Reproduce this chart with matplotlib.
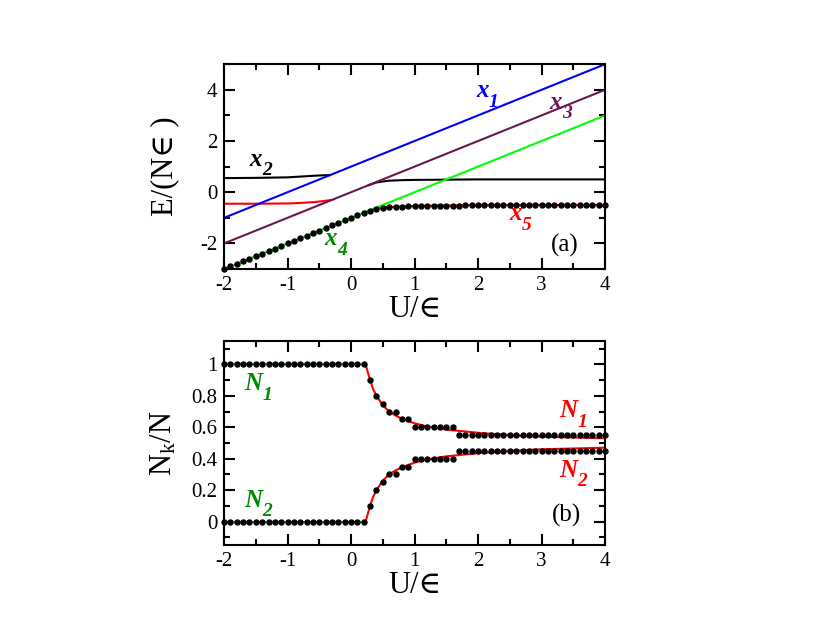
import matplotlib
matplotlib.use('Agg')
import matplotlib.pyplot as plt
from matplotlib.ticker import MultipleLocator
import numpy as np

plt.rcParams['font.family'] = ['Liberation Serif', 'DejaVu Serif']
plt.rcParams['mathtext.fontset'] = 'custom'
plt.rcParams['mathtext.rm'] = 'Liberation Serif'
plt.rcParams['mathtext.it'] = 'Liberation Serif:italic'
plt.rcParams['axes.unicode_minus'] = False

# ---- panel (a): energy levels ----
u_x1 = [-2, 4]
e_x1 = [-1, 5]
u_x3 = [-2, 4]
e_x3 = [-2, 4]
u_x4 = [-2, 4]
e_x4 = [-3, 3]

u_x2_left = [-2, -1.5, -1, -0.8, -0.6, -0.45, -0.33]
e_x2_left = [0.55, 0.56, 0.58, 0.61, 0.64, 0.66, 0.67]
u_x2_right = [0.28, 0.35, 0.4, 0.5, 0.6, 0.8, 1.0, 1.5, 2, 3, 4]
e_x2_right = [0.28, 0.34, 0.38, 0.42, 0.45, 0.47, 0.48, 0.49, 0.5, 0.5, 0.5]

u_x5_left = [-2, -1.5, -1, -0.8, -0.6, -0.45, -0.3]
e_x5_left = [-0.45, -0.45, -0.44, -0.42, -0.39, -0.35, -0.3]
u_x5_right = [0.3, 0.4, 0.5, 0.6, 0.8, 1.0, 1.5, 2, 3, 4]
e_x5_right = [-0.72, -0.65, -0.61, -0.58, -0.56, -0.54, -0.52, -0.51, -0.5, -0.5]

u_dots = np.round(np.arange(-2.0, 4.01, 0.1), 2)
e_dots = [-3.0, -2.9, -2.8, -2.7, -2.6, -2.5, -2.4, -2.3, -2.2, -2.1,
          -2.0, -1.9, -1.8, -1.7, -1.6, -1.5, -1.4, -1.3, -1.2, -1.1,
          -1.0, -0.9, -0.81, -0.72, -0.65, -0.61, -0.58, -0.57, -0.56, -0.55,
          -0.54, -0.54, -0.53, -0.53, -0.52, -0.52, -0.52, -0.52, -0.51, -0.51,
          -0.51, -0.51, -0.51, -0.51, -0.51, -0.5, -0.5, -0.5, -0.5, -0.5,
          -0.5, -0.5, -0.5, -0.5, -0.5, -0.5, -0.5, -0.5, -0.5, -0.5, -0.5]

# ---- panel (b): occupations ----
n1_dots = [1.0] * 23 + [0.9, 0.8, 0.75, 0.7, 0.7, 0.65, 0.65] + [0.6] * 7 + [0.55] * 24
n2_dots = [0.0] * 23 + [0.1, 0.2, 0.25, 0.3, 0.3, 0.35, 0.35] + [0.4] * 7 + [0.45] * 24

u_flat = [-2, 0.23]
n1_flat = [1, 1]
n2_flat = [0, 0]

u_curve = [0.23, 0.25, 0.3, 0.35, 0.4, 0.5, 0.6, 0.7, 0.8, 1.0, 1.2, 1.5, 2, 2.5, 3, 3.5, 4]
n1_curve = [1.0, 0.97, 0.9, 0.84, 0.8, 0.74, 0.70, 0.675, 0.655, 0.625, 0.605,
            0.585, 0.565, 0.55, 0.54, 0.535, 0.53]
n2_curve = [0.0, 0.03, 0.1, 0.16, 0.2, 0.26, 0.30, 0.325, 0.345, 0.375, 0.395,
            0.415, 0.435, 0.45, 0.46, 0.465, 0.47]

blue = '#0000ff'
maroon = '#6a1650'
lgreen = '#00ff00'
dgreen = '#008b00'
red = '#ff0000'
lw = 1.5

fig = plt.figure(figsize=(8.3, 6.42), dpi=100)
ax1 = fig.add_axes([0.270, 0.581, 0.459, 0.319])
ax2 = fig.add_axes([0.270, 0.151, 0.459, 0.318])


def style(ax):
    ax.tick_params(which='both', direction='in', top=True, right=True, labelsize=15)
    ax.tick_params(which='major', length=8, width=1.5, pad=5)
    ax.tick_params(which='minor', length=4.5, width=1.5)
    for s in ax.spines.values():
        s.set_linewidth(1.5)
    ax.xaxis.set_major_locator(MultipleLocator(1))
    ax.xaxis.set_minor_locator(MultipleLocator(0.5))
    ax.set_xlim(-2, 4)
    ax.set_xlabel('U/∈', fontsize=22, labelpad=0)


def sublabel(ax, x, y, main, sub, color):
    # letter ends at (x, y) on its baseline, subscript hangs below it
    ax.text(x, y, main, color=color, fontsize=18, fontweight='bold',
            fontstyle='italic', ha='right', va='baseline')
    ax.annotate(sub, xy=(x, y), xytext=(0, -7), textcoords='offset points',
                color=color, fontsize=14, fontweight='bold', fontstyle='italic',
                ha='left', va='baseline')


# panel (a)
ax1.plot(u_x2_left, e_x2_left, color='black', lw=lw)
ax1.plot(u_x2_right, e_x2_right, color='black', lw=lw)
ax1.plot(u_x5_left, e_x5_left, color=red, lw=lw)
ax1.plot(u_x5_right, e_x5_right, color=red, lw=lw)
ax1.plot(u_x4, e_x4, color=lgreen, lw=lw)
ax1.plot(u_x3, e_x3, color=maroon, lw=lw)
ax1.plot(u_x1, e_x1, color=blue, lw=lw)
ax1.plot(u_dots, e_dots, 'o', color='black', ms=3.6, clip_on=False, zorder=5)
style(ax1)
ax1.set_ylim(-3, 5)
ax1.yaxis.set_major_locator(MultipleLocator(2))
ax1.yaxis.set_minor_locator(MultipleLocator(1))
ax1.set_ylabel('E/(N∈ )', fontsize=22, labelpad=15)

sublabel(ax1, 2.17, 3.72, 'x', '1', blue)
sublabel(ax1, -1.40, 1.04, 'x', '2', 'black')
sublabel(ax1, 3.32, 3.26, 'x', '3', maroon)
sublabel(ax1, -0.22, -2.07, 'x', '4', dgreen)
sublabel(ax1, 2.69, -1.10, 'x', '5', red)
ax1.text(3.37, -2.08, '(a)', fontsize=18, ha='center', va='center')

# panel (b)
ax2.plot(u_flat, n1_flat, color=lgreen, lw=lw)
ax2.plot(u_flat, n2_flat, color=lgreen, lw=lw)
ax2.plot(u_curve, n1_curve, color=red, lw=lw)
ax2.plot(u_curve, n2_curve, color=red, lw=lw)
ax2.plot(u_dots, n1_dots, 'o', color='black', ms=3.6, clip_on=False, zorder=5)
ax2.plot(u_dots, n2_dots, 'o', color='black', ms=3.6, clip_on=False, zorder=5)
style(ax2)
ax2.set_ylim(-0.15, 1.15)
ax2.yaxis.set_major_locator(MultipleLocator(0.2))
ax2.yaxis.set_minor_locator(MultipleLocator(0.1))
ax2.yaxis.set_major_formatter(plt.FuncFormatter(lambda v, p: f'{v:g}' if abs(v) > 1e-9 else '0'))
ax2.set_ylabel(r'N$_\mathrm{k}$/N', fontsize=22, labelpad=9)

sublabel(ax2, -1.40, 0.835, 'N', '1', dgreen)
sublabel(ax2, -1.40, 0.095, 'N', '2', dgreen)
sublabel(ax2, 3.56, 0.665, 'N', '1', red)
sublabel(ax2, 3.56, 0.285, 'N', '2', red)
ax2.text(3.40, 0.04, '(b)', fontsize=18, ha='center', va='center')

fig.savefig('out.png', dpi=100)
